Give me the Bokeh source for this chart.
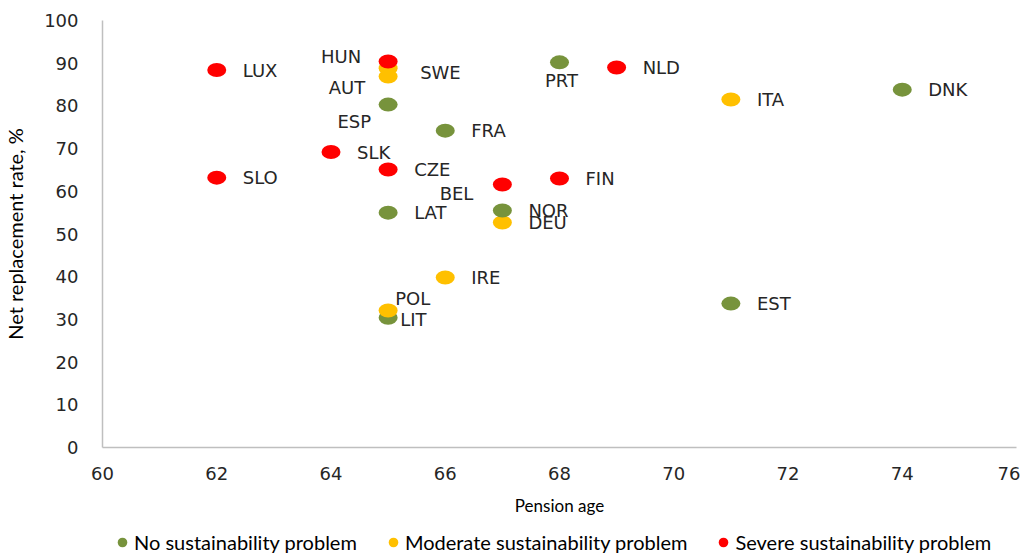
from bokeh.plotting import figure
from bokeh.layouts import column
from bokeh.models import ColumnDataSource, FixedTicker, Legend, LegendItem, CDSView, GroupFilter
from bokeh.core.properties import value
from bokeh.embed import file_html
from bokeh.resources import INLINE

# ---- data ----
countries = ["LUX", "AUT", "SWE", "HUN", "ESP", "PRT", "NLD", "ITA", "DNK", "FRA",
             "SLK", "CZE", "SLO", "FIN", "BEL", "LAT", "DEU", "NOR", "IRE", "LIT",
             "POL", "EST"]
pension_age = [62, 65, 65, 65, 65, 68, 69, 71, 74, 66,
               64, 65, 62, 68, 67, 65, 67, 67, 66, 65,
               65, 71]
replacement_rate = [88.4, 86.9, 88.8, 90.4, 80.3, 90.2, 89.0, 81.5, 83.8, 74.2,
                    69.2, 65.1, 63.2, 63.0, 61.6, 55.0, 52.7, 55.5, 39.8, 30.4,
                    32.1, 33.7]
sustainability = ["Severe", "Moderate", "Moderate", "Severe", "No", "No", "Severe", "Moderate", "No", "No",
                  "Severe", "Severe", "Severe", "Severe", "Severe", "No", "Moderate", "No", "Moderate", "No",
                  "Moderate", "No"]
legend_labels = ["No sustainability problem", "Moderate sustainability problem", "Severe sustainability problem"]
categories = ["No", "Moderate", "Severe"]

# ---- styles ----
palette = {"No": "#77933C", "Moderate": "#FFC000", "Severe": "#FF0000"}
# label placement (screen px offsets, alignment); default is right of the point
label_style = {
    "HUN": (-27, -5, "right"),
    "SWE": (32, 4, "left"),
    "AUT": (-23, 11, "right"),
    "ESP": (-17, 17, "right"),
    "PRT": (2, 18, "center"),
    "BEL": (-29, 9, "right"),
    "POL": (7, -12, "left"),
    "LIT": (12, 2, "left"),
}

colors = [palette[s] for s in sustainability]
dx, dy, align = [], [], []
for c in countries:
    a, b, al = label_style.get(c, (26, 0, "left"))
    dx.append(a)
    dy.append(b)
    align.append(al)

src = ColumnDataSource(dict(x=pension_age, y=replacement_rate, name=countries, color=colors,
                            cat=sustainability, dx=dx, dy=dy, align=align))

# ---- main chart ----
p = figure(width=1020, height=520, x_range=(60, 76), y_range=(0, 100),
           output_backend="svg", toolbar_location=None,
           min_border_left=99, min_border_right=4, min_border_top=20, min_border_bottom=73)
p.outline_line_color = None
p.xgrid.visible = False
p.ygrid.visible = False

for ax in (p.xaxis[0], p.yaxis[0]):
    ax.axis_line_color = "#BFBFBF"
    ax.axis_line_width = 1.5
    ax.major_tick_line_color = None
    ax.minor_tick_line_color = None
    ax.major_label_text_font = "DejaVu Sans"
    ax.major_label_text_font_size = "18px"
    ax.major_label_text_color = "#262626"
    ax.axis_label_text_font = "Lato"
    ax.axis_label_text_font_style = "normal"
    ax.axis_label_text_color = "#000000"

p.xaxis.ticker = FixedTicker(ticks=list(range(60, 77, 2)))
p.yaxis.ticker = FixedTicker(ticks=list(range(0, 101, 10)))
p.xaxis.axis_label = "Pension age"
p.yaxis.axis_label = "Net replacement rate, %"
p.xaxis.axis_label_text_font_size = "17px"
p.yaxis.axis_label_text_font_size = "20px"
p.xaxis.major_label_standoff = 13
p.yaxis.major_label_standoff = 18
p.xaxis.axis_label_standoff = 12
p.yaxis.axis_label_standoff = 14

p.ellipse(x="x", y="y", width=19, height=14, width_units="screen", height_units="screen",
          fill_color="color", line_color=None, source=src)

p.text(x="x", y="y", text="name", x_offset="dx", y_offset="dy", text_align="align",
       text_baseline="middle", text_font=value("DejaVu Sans"), text_font_size="18px",
       text_color="#262626", source=src)

# ---- legend strip (its view holds no data points) ----
lf = figure(width=1020, height=35, x_range=(0, 1), y_range=(0, 1),
            output_backend="svg", toolbar_location=None,
            x_axis_location=None, y_axis_location=None, min_border=0)
lf.outline_line_color = None
lf.grid.visible = False

items = []
for cat, lab in zip(categories, legend_labels):
    view = CDSView(filter=GroupFilter(column_name="cat", group=cat))
    r = lf.scatter(x="x", y="y", marker="circle", size=11, fill_color=palette[cat],
                   line_color=None, source=src, view=view)
    items.append(LegendItem(label=lab, renderers=[r]))

legend = Legend(items=items, orientation="horizontal", location=(8, 1),
                border_line_alpha=0, background_fill_alpha=0, padding=0, margin=0,
                spacing=24, label_standoff=0, glyph_width=24, glyph_height=24,
                label_text_font="Lato", label_text_font_size="20px", label_text_color="#000000")
lf.add_layout(legend, "center")

layout = column(p, lf, spacing=0)
open("out.html", "w").write(file_html(layout, INLINE))
